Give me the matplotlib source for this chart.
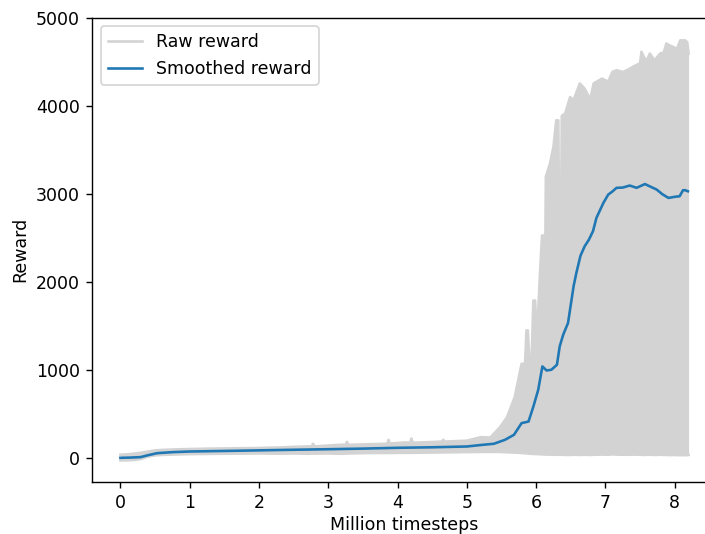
import matplotlib
matplotlib.use("Agg")
import matplotlib.pyplot as plt

# Raw reward: envelope (local max / local min) of the noisy raw curve
raw_x = [0.00, 0.10, 0.20, 0.30, 0.40, 0.50, 0.60, 0.80, 1.00, 1.30, 1.60, 2.00, 2.30, 2.50,
         2.70, 2.76, 2.78, 2.80, 3.00, 3.20, 3.25, 3.27, 3.29, 3.60, 3.85, 3.87, 3.89, 4.10,
         4.18, 4.20, 4.22, 4.50, 4.64, 4.66, 4.68, 5.00, 5.20,
         5.34, 5.48, 5.58, 5.69, 5.79, 5.84, 5.86, 5.88, 5.90, 5.93, 5.96, 5.985, 6.01, 6.06,
         6.085, 6.11, 6.13, 6.14, 6.20, 6.25, 6.29, 6.32, 6.335, 6.355, 6.37, 6.42, 6.49, 6.54,
         6.63, 6.70, 6.76, 6.78, 6.83, 6.95, 7.04, 7.10, 7.16, 7.25, 7.31, 7.40, 7.50, 7.52,
         7.56, 7.60, 7.64, 7.71, 7.79, 7.84, 7.88, 7.93, 7.98, 8.03, 8.08, 8.15, 8.18, 8.20]
raw_high = [35, 40, 48, 58, 72, 84, 90, 96, 100, 105, 108, 112, 118, 125,
            130, 130, 160, 130, 140, 150, 150, 182, 148, 155, 160, 205, 162, 175,
            172, 220, 172, 180, 185, 205, 185, 195, 235,
            232, 350, 462, 690, 1070, 1070, 1450, 1450, 1150, 1000, 1790, 1790, 1340, 2170,
            2530, 2530, 2170, 3200, 3350, 3540, 3840, 3840, 2220, 2220, 3890, 3920, 4105, 4070,
            4260, 4200, 4110, 4075, 4260, 4315, 4280, 4390, 4410, 4390, 4410, 4450, 4490, 4620,
            4550, 4525, 4600, 4525, 4600, 4610, 4715, 4690, 4675, 4650, 4750, 4750, 4730, 4600]
raw_low = [-30, -28, -25, -12, 15, 28, 33, 38, 42, 45, 47, 50, 47, 50,
           46, 48, 50, 48, 50, 46, 48, 50, 50, 55, 55, 55, 55, 57,
           57, 57, 57, 60, 62, 62, 62, 65, 67,
           67, 67, 63, 60, 55, 52, 50, 50, 47, 45, 45, 43, 43, 40,
           40, 38, 38, 37, 37, 35, 35, 35, 35, 35, 35, 33, 33, 35,
           33, 35, 33, 33, 35, 37, 35, 40, 37, 35, 35, 37, 35, 35,
           33, 35, 35, 33, 35, 33, 33, 31, 33, 31, 30, 30, 31, 33]

# Smoothed reward
smooth_x = [0.00, 0.15, 0.29, 0.40, 0.53, 0.76, 1.00, 1.48, 2.00, 2.44, 3.00, 3.50, 4.00,
            4.50, 5.00, 5.19, 5.39, 5.55, 5.68, 5.79, 5.89, 5.96, 6.03, 6.09, 6.15, 6.22,
            6.30, 6.34, 6.39, 6.46, 6.54, 6.58, 6.64, 6.70, 6.76, 6.82, 6.87, 6.97, 7.04,
            7.10, 7.16, 7.25, 7.35, 7.45, 7.57, 7.65, 7.74, 7.82, 7.91, 8.00, 8.07, 8.12,
            8.15, 8.19]
smooth_y = [0, 3, 8, 30, 53, 65, 72, 78, 85, 91, 98, 105, 114,
            120, 129, 145, 160, 205, 262, 395, 413, 584, 774, 1040, 994, 1002,
            1059, 1268, 1400, 1534, 1951, 2103, 2300, 2407, 2480, 2578, 2730, 2900, 2995,
            3030, 3072, 3075, 3098, 3072, 3115, 3085, 3052, 3000, 2957, 2970, 2976, 3045,
            3045, 3033]

assert len(raw_x) == len(raw_high) == len(raw_low)
assert len(smooth_x) == len(smooth_y)

DPI = 125
fig = plt.figure(figsize=(705 / DPI, 534 / DPI), dpi=DPI)
ax = fig.add_axes([92 / 705, 52 / 534, 625 / 705, 464.5 / 534])

ax.fill_between(raw_x, raw_low, raw_high, color="lightgray", linewidth=0, zorder=1)
ax.plot(raw_x, raw_high, color="lightgray", linewidth=1.5, label="Raw reward", zorder=1)
ax.plot(raw_x, raw_low, color="lightgray", linewidth=1.5, zorder=1)
ax.plot(smooth_x, smooth_y, color="#1f77b4", linewidth=1.5, label="Smoothed reward", zorder=2)

ax.set_xlim(-0.41, 8.61)
ax.set_ylim(-275, 5010)
ax.set_xticks([0, 1, 2, 3, 4, 5, 6, 7, 8])
ax.set_yticks([0, 1000, 2000, 3000, 4000, 5000])
ax.set_xlabel("Million timesteps", labelpad=2.5)
ax.set_ylabel("Reward")
ax.legend(loc="upper left")

fig.savefig("out.png", dpi=DPI)
